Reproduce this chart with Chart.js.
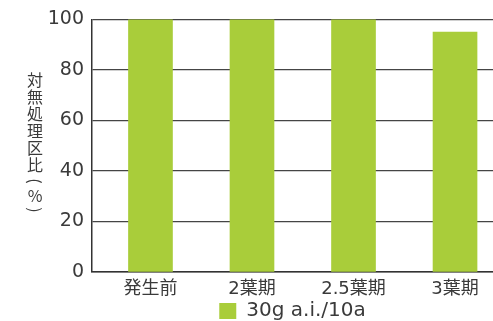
<!DOCTYPE html>
<html>
<head>
<meta charset="utf-8">
<script src="https://cdn.jsdelivr.net/npm/chart.js@4/dist/chart.umd.min.js"></script>
<style>
  html,body{ margin:0; padding:0; background:#fff; }
  #wrap{ width:493px; height:321px; position:relative; }
</style>
</head>
<body>
<div id="wrap"><canvas id="chart"></canvas></div>
<script>
/* 対無処理区比 — 処理時期別 */
const categories = ["発生前", "2葉期", "2.5葉期", "3葉期"];
const values = [100, 100, 100, 95];
const seriesName = "30g a.i./10a";
const yTicks = [0, 20, 40, 60, 80, 100];
const yTitle = ["対", "無", "処", "理", "区", "比", "(", "%", ")"];

const COLORS = {
  bar:  "#A9CD3A",
  ink:  "#333333",
  grid: "#454545",
  text: "#3A3A3A"
};
const FONT = "'DejaVu Sans','Noto Sans CJK JP',sans-serif";
const CJK = "'Noto Sans CJK JP',sans-serif";

/* vertical axis title, one glyph per line; brackets turned for vertical writing */
const verticalTitle = {
  id: 'verticalTitle',
  afterDraw(chart){
    const ctx = chart.ctx;
    ctx.save();
    ctx.fillStyle = COLORS.text;
    ctx.font = "16px " + CJK;
    ctx.textAlign = 'center';
    ctx.textBaseline = 'middle';
    let y = 80;
    yTitle.forEach(ch => {
      if (ch === "(" || ch === ")") {
        const yy = ch === "(" ? y - 1 : y - 3;
        ctx.save();
        ctx.translate(35, yy);
        ctx.rotate(Math.PI / 2);
        ctx.fillText(ch, 0, 0);
        ctx.restore();
        y += 14;
      } else {
        ctx.fillText(ch, 35, y);
        y += 17;
      }
    });
    ctx.restore();
  }
};

new Chart(document.getElementById('chart'), {
  type: 'bar',
  data: {
    datasets: [{
      label: seriesName,
      data: values.map((v, i) => ({ x: i, y: v })),
      backgroundColor: COLORS.bar,
      borderWidth: 0,
      barThickness: 44
    }]
  },
  options: {
    responsive: true,
    maintainAspectRatio: false,
    animation: false,
    layout: { padding: { top: 18, right: 0, left: 0, bottom: -10 } },
    plugins: {
      legend: {
        position: 'bottom',
        fullSize: false,
        labels: {
          color: COLORS.text,
          font: { family: FONT, size: 20 },
          boxWidth: 17,
          boxHeight: 16,
          padding: 0
        }
      },
      tooltip: { enabled: false }
    },
    scales: {
      x: {
        type: 'linear',
        offset: false,
        min: -0.576,
        max: 3.374,
        afterBuildTicks: s => { s.ticks = categories.map((c, i) => ({ value: i })); },
        grid: { display: false, drawTicks: false, offset: false },
        border: { display: true, color: COLORS.ink, width: 1.5 },
        ticks: {
          autoSkip: false,
          maxRotation: 0,
          padding: 7,
          color: COLORS.text,
          font: { family: FONT, size: 18 },
          callback: v => categories[v]
        },
        afterFit: s => { s.height = 29; }
      },
      y: {
        min: 0,
        max: 100,
        afterBuildTicks: s => { s.ticks = yTicks.map(v => ({ value: v })); },
        grid: { color: COLORS.grid, lineWidth: 1.3, drawTicks: false },
        border: { display: true, color: COLORS.ink, width: 1.5 },
        ticks: {
          padding: 8,
          color: COLORS.text,
          font: { family: FONT, size: 19 }
        },
        afterFit: s => { s.width = 92; }
      }
    }
  },
  plugins: [verticalTitle]
});
</script>
</body>
</html>
